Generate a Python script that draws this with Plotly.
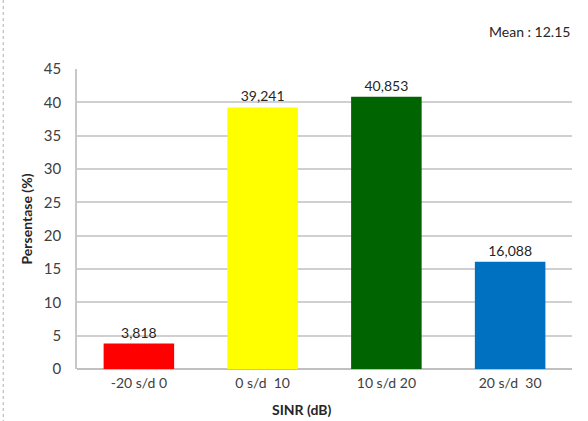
import plotly.graph_objects as go

# SINR distribution per range
categories = ["-20 s/d 0", "0 s/d  10", "10 s/d 20", "20 s/d  30"]
percent = [3.818, 39.241, 40.853, 16.088]
bar_colors = ["#ff0000", "#ffff00", "#006400", "#0070c0"]
y_ticks = [0, 5, 10, 15, 20, 25, 30, 35, 40, 45]

font_family = "Lato, Open Sans, sans-serif"

fig = go.Figure(
    go.Bar(
        x=categories,
        y=percent,
        marker=dict(color=bar_colors, line=dict(width=0)),
        texttemplate="%{y:.3f}",
        textposition="outside",
        textfont=dict(size=14, color="#262626"),
        cliponaxis=False,
    )
)

fig.update_layout(
    width=588,
    height=421,
    margin=dict(l=77, r=16, t=69, b=52),
    paper_bgcolor="white",
    plot_bgcolor="white",
    separators=",.",
    bargap=0.43,
    showlegend=False,
    font=dict(family=font_family, size=14, color="#404040"),
    xaxis=dict(
        showgrid=False,
        showline=False,
        ticks="",
        ticklabelstandoff=4,
        tickfont=dict(size=14, color="#404040"),
    ),
    yaxis=dict(
        range=[0, 45],
        tickvals=y_ticks,
        showgrid=True,
        gridcolor="#d0d0d0",
        gridwidth=1.5,
        zeroline=True,
        zerolinecolor="#c0c0c0",
        zerolinewidth=1.5,
        showline=True,
        linecolor="#c8c8c8",
        linewidth=1.5,
        ticks="",
        ticklabelstandoff=11,
        tickfont=dict(size=15, color="#404040"),
        title=dict(
            text="<b>Persentase (%)</b>",
            font=dict(size=14, color="#262626"),
            standoff=8,
        ),
    ),
    annotations=[
        dict(
            text="<b>SINR (dB)</b>",
            xref="paper", yref="paper",
            x=0.455, y=-0.135,
            xanchor="center", yanchor="middle",
            showarrow=False,
            font=dict(size=14, color="#262626"),
        ),
        dict(
            text="Mean : 12.15",
            xref="paper", yref="paper",
            x=1.0, y=1.125,
            xanchor="right", yanchor="middle",
            showarrow=False,
            font=dict(size=14, color="#262626"),
        ),
    ],
    shapes=[
        dict(
            type="line",
            xref="paper", yref="paper",
            x0=-0.149, x1=-0.149, y0=-0.2, y1=1.23,
            line=dict(color="#b0b0b0", width=1, dash="dot"),
        )
    ],
)

fig.write_html("out.html")
